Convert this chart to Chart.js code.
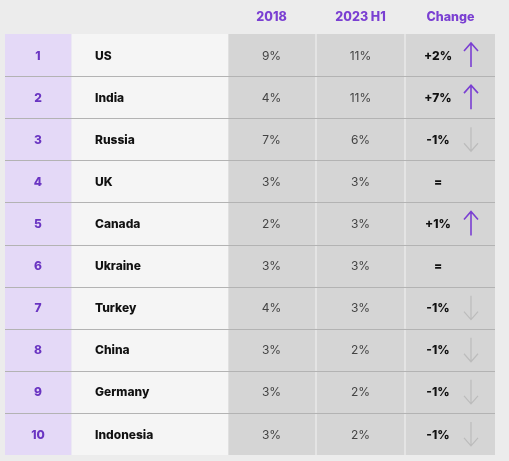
<!DOCTYPE html>
<html>
<head>
<meta charset="utf-8">
<script src="https://cdn.jsdelivr.net/npm/chart.js@4"></script>
<style>
  html, body { margin: 0; padding: 0; background: #ececec; }
  #wrap { width: 509px; height: 461px; }
</style>
</head>
<body>
<div id="wrap"><canvas id="table"></canvas></div>
<script>
// --- Data ---
const ranks = ['1', '2', '3', '4', '5', '6', '7', '8', '9', '10'];
const countries = ['US', 'India', 'Russia', 'UK', 'Canada', 'Ukraine', 'Turkey', 'China', 'Germany', 'Indonesia'];
const share2018 = [9, 4, 7, 3, 2, 3, 4, 3, 3, 3];
const share2023 = [11, 11, 6, 3, 3, 3, 3, 2, 2, 2];
const changes = [2, 7, -1, 0, 1, 0, -1, -1, -1, -1];
const headers = ['2018', '2023 H1', 'Change'];

// column spans in x-scale units
const columns = [[0, 66], [67, 223], [223, 310], [312, 399], [401, 490]];
const columnColors = ['#e4d9f7', '#f5f5f5', '#d5d5d5', '#d5d5d5', '#d5d5d5'];

const PURPLE = '#7a3fd2';

const datasets = columns.map((span, i) => ({
    data: countries.map(() => span),
    backgroundColor: columnColors[i],
    borderWidth: 0,
    grouped: false,
    barPercentage: 1,
    categoryPercentage: 1
}));

function fmtChange(v) {
    if (v === 0) return '=';
    return (v > 0 ? '+' : '') + v + '%';
}

function drawArrow(ctx, x, y, up) {
    const h = 12;
    ctx.save();
    ctx.strokeStyle = up ? PURPLE : '#bcbcbc';
    ctx.lineWidth = up ? 1.6 : 1.2;
    ctx.beginPath();
    ctx.moveTo(x, y - h);
    ctx.lineTo(x, y + h);
    const tip = up ? y - h : y + h;
    const dir = up ? 1 : -1;
    ctx.moveTo(x - 7, tip + dir * 8);
    ctx.lineTo(x, tip);
    ctx.lineTo(x + 7, tip + dir * 8);
    ctx.stroke();
    ctx.restore();
}

const tableText = {
    id: 'tableText',
    afterDatasetsDraw(chart) {
        const { ctx, scales: { x, y } } = chart;
        const half = (y.getPixelForValue(1) - y.getPixelForValue(0)) / 2;
        const cx = i => (x.getPixelForValue(columns[i][0]) + x.getPixelForValue(columns[i][1])) / 2;

        ctx.save();
        // row separators
        ctx.strokeStyle = '#b3b3b3';
        ctx.lineWidth = 1;
        for (let r = 1; r < countries.length; r++) {
            const yy = Math.round(y.getPixelForValue(r) - half) + 0.5;
            ctx.beginPath();
            ctx.moveTo(x.left, yy);
            ctx.lineTo(x.right, yy);
            ctx.stroke();
        }

        // headers
        ctx.textBaseline = 'middle';
        ctx.textAlign = 'center';
        ctx.fillStyle = PURPLE;
        ctx.font = '800 12.5px Inter, "Noto Sans", sans-serif';
        headers.forEach((h, i) => ctx.fillText(h, cx(i + 2), y.top - 17));

        countries.forEach((c, r) => {
            const yy = y.getPixelForValue(r) + 1;
            ctx.textAlign = 'center';
            ctx.fillStyle = '#6a35c2';
            ctx.font = '800 12px Inter, "Noto Sans", sans-serif';
            ctx.fillText(ranks[r], cx(0), yy);

            ctx.textAlign = 'left';
            ctx.fillStyle = '#111';
            ctx.font = '800 12px Inter, "Noto Sans", sans-serif';
            ctx.fillText(c, x.getPixelForValue(columns[1][0] + 23), yy);

            ctx.textAlign = 'center';
            ctx.fillStyle = '#444';
            ctx.font = '12px Inter, "Noto Sans", sans-serif';
            ctx.fillText(share2018[r] + '%', cx(2), yy);
            ctx.fillText(share2023[r] + '%', cx(3), yy);

            ctx.fillStyle = '#111';
            ctx.font = '800 12px Inter, "Noto Sans", sans-serif';
            ctx.fillText(fmtChange(changes[r]), x.getPixelForValue(columns[4][0] + 32), yy);
            if (changes[r] !== 0) {
                drawArrow(ctx, x.getPixelForValue(columns[4][0] + 65), yy - 1, changes[r] > 0);
            }
        });
        ctx.restore();
    }
};

new Chart(document.getElementById('table'), {
    type: 'bar',
    data: { labels: countries, datasets },
    options: {
        indexAxis: 'y',
        responsive: true,
        maintainAspectRatio: false,
        animation: false,
        layout: { padding: { left: 5, right: 14, top: 34, bottom: 6 } },
        scales: {
            x: { type: 'linear', min: 0, max: 490, display: false },
            y: { type: 'category', display: false, grid: { offset: true } }
        },
        plugins: { legend: { display: false }, tooltip: { enabled: false } }
    },
    plugins: [tableText]
});
</script>
</body>
</html>
